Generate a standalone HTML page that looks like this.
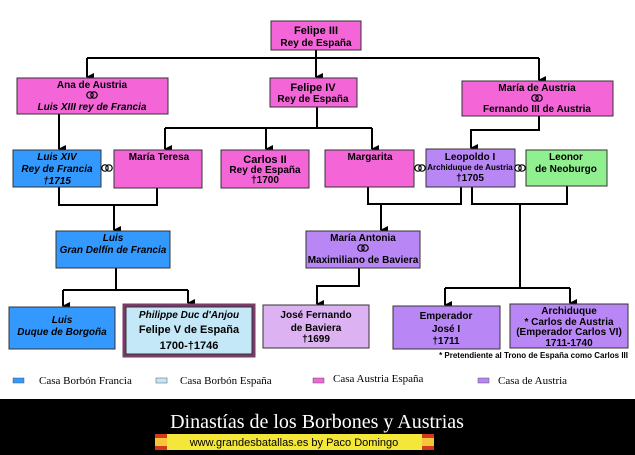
<!DOCTYPE html>
<html><head><meta charset="utf-8"><style>
body{margin:0;width:635px;height:455px;background:#fff;overflow:hidden}
svg{display:block}
text{font-family:"Liberation Sans",Arial,sans-serif;font-weight:bold;fill:#000}
.s{font-size:10px}
.xs{font-size:8px}
</style></head><body>
<svg width="635" height="455" viewBox="0 0 635 455">
<defs><marker id="a" markerWidth="8" markerHeight="8" refX="4" refY="7" orient="auto" markerUnits="userSpaceOnUse"><path d="M0,0 L8,0 L4,8z" fill="#000"/></marker>
<g id="r"><circle cx="-2" cy="0" r="3.2" fill="none" stroke="#000" stroke-width="1.2"/><circle cx="2" cy="0" r="3.2" fill="none" stroke="#000" stroke-width="1.2"/></g></defs>
<g fill="none" stroke="#000" stroke-width="2">
<path d="M316,50 V77" marker-end="url(#a)"/>
<path d="M87,58 H539" /><path d="M87,58 V77" marker-end="url(#a)"/><path d="M539,58 V80" marker-end="url(#a)"/>
<path d="M59,114 V149" marker-end="url(#a)"/>
<path d="M317,107 V128"/><path d="M165,128 H372"/><path d="M165,128 V149" marker-end="url(#a)"/><path d="M266,128 V149" marker-end="url(#a)"/><path d="M372,128 V149" marker-end="url(#a)"/>
<path d="M539,116 V130 H471 V148" marker-end="url(#a)"/>
<path d="M59,187 V205 H157 V188"/><path d="M114,205 V230" marker-end="url(#a)"/>
<path d="M368,187 V204 H461 V187"/><path d="M381,204 V230" marker-end="url(#a)"/>
<path d="M472,187 V204 H567 V186"/><path d="M520,204 V288"/><path d="M445,288 H570"/><path d="M445,288 V305" marker-end="url(#a)"/><path d="M570,288 V303" marker-end="url(#a)"/>
<path d="M116,268 V290"/><path d="M63,290 H188"/><path d="M63,290 V306" marker-end="url(#a)"/><path d="M188,290 V303" marker-end="url(#a)"/>
<path d="M359,268 V286 H317 V304" marker-end="url(#a)"/>
</g>
<g stroke="#333" stroke-width="1">
<rect x="271" y="21" width="90" height="29" fill="#f466d8"/>
<rect x="17" y="78" width="151" height="36" fill="#f466d8"/>
<rect x="270" y="78" width="87" height="29" fill="#f466d8"/>
<rect x="462" y="81" width="151" height="35" fill="#f466d8"/>
<rect x="13" y="150" width="88" height="37" fill="#3399ff"/>
<rect x="114" y="150" width="88" height="38" fill="#f466d8"/>
<rect x="221" y="150" width="88" height="38" fill="#f466d8"/>
<rect x="325" y="150" width="89" height="37" fill="#f466d8"/>
<rect x="426" y="149" width="89" height="38" fill="#b987f5"/>
<rect x="526" y="150" width="81" height="36" fill="#90f090"/>
<rect x="56" y="231" width="114" height="37" fill="#3399ff"/>
<rect x="306" y="231" width="114" height="37" fill="#b987f5"/>
<rect x="9" y="307" width="106" height="42" fill="#3399ff"/>
<rect x="123" y="304" width="132" height="53" fill="#7a3a6a" stroke="#7a3a6a"/>
<rect x="126" y="307" width="126" height="47" fill="#c4e8f8"/>
<rect x="263" y="305" width="106" height="43" fill="#dcb2f2"/>
<rect x="393" y="306" width="107" height="43" fill="#b987f5"/>
<rect x="510" y="304" width="118" height="44" fill="#b987f5"/>
</g>
<use href="#r" x="92" y="95"/><use href="#r" x="537" y="98"/><use href="#r" x="363" y="248"/>
<use href="#r" x="107" y="168"/><use href="#r" x="420" y="168"/><use href="#r" x="520" y="168"/>
<g text-anchor="middle">
<text x="316" y="34" font-size="11">Felipe III</text><text x="316" y="46" class="s">Rey de España</text>
<text x="92" y="88" class="s">Ana de Austria</text><text x="92" y="110" class="s" font-style="italic">Luis XIII rey de Francia</text>
<text x="313" y="91" font-size="11">Felipe IV</text><text x="313" y="102" class="s">Rey de España</text>
<text x="537" y="91" class="s">María de Austria</text><text x="537" y="112" class="s">Fernando III de Austria</text>
<g font-style="italic"><text x="57" y="160" class="s">Luis XIV</text><text x="57" y="172" class="s">Rey de Francia</text><text x="57" y="184" class="s">†1715</text></g>
<text x="159" y="160" class="s">María Teresa</text>
<text x="265" y="163" font-size="11">Carlos II</text><text x="265" y="173" class="s">Rey de España</text><text x="265" y="183" class="s">†1700</text>
<text x="370" y="160" class="s">Margarita</text>
<text x="470" y="160" class="s">Leopoldo I</text><text x="470" y="170" class="xs">Archiduque de Austria</text><text x="470" y="181" class="s">†1705</text>
<text x="566" y="160" class="s">Leonor</text><text x="566" y="172" class="s">de Neoburgo</text>
<g font-style="italic"><text x="113" y="241" class="s">Luis</text><text x="113" y="253" class="s">Gran Delfín de Francia</text></g>
<text x="363" y="241" class="s">María Antonia</text><text x="363" y="263" class="s">Maximiliano de Baviera</text>
<g font-style="italic"><text x="62" y="323" class="s">Luis</text><text x="62" y="335" class="s">Duque de Borgoña</text></g>
<text x="189" y="318" class="s" font-style="italic">Philippe Duc d'Anjou</text><text x="189" y="333" font-size="11">Felipe V de España</text><text x="189" y="349" font-size="11">1700-†1746</text>
<text x="316" y="318" class="s">José Fernando</text><text x="316" y="331" class="s">de Baviera</text><text x="316" y="342" class="s">†1699</text>
<text x="446" y="319" class="s">Emperador</text><text x="446" y="332" class="s">José I</text><text x="446" y="344" class="s">†1711</text>
<text x="569" y="314" class="s">Archiduque</text><text x="569" y="325" class="s">* Carlos de Austria</text><text x="569" y="335" class="s">(Emperador Carlos VI)</text><text x="569" y="346" class="s">1711-1740</text>
</g>
<text x="628" y="358" class="xs" text-anchor="end">* Pretendiente al Trono de España como Carlos III</text>
<g stroke="#555" stroke-width="0.5">
<rect x="13" y="378" width="11" height="5" fill="#3399ff"/>
<rect x="156" y="378" width="11" height="5" fill="#c4e8f8"/>
<rect x="313" y="378" width="11" height="5" fill="#f466d8"/>
<rect x="478" y="378" width="11" height="5" fill="#b987f5"/>
</g>
<g font-size="11">
<text x="39" y="384" style="font-family:'Liberation Serif',serif;font-weight:normal">Casa Borbón Francia</text>
<text x="180" y="384" style="font-family:'Liberation Serif',serif;font-weight:normal">Casa Borbón España</text>
<text x="333" y="382" style="font-family:'Liberation Serif',serif;font-weight:normal">Casa Austria España</text>
<text x="498" y="384" style="font-family:'Liberation Serif',serif;font-weight:normal">Casa de Austria</text>
</g>
<rect x="0" y="399" width="635" height="56" fill="#000"/>
<text x="317" y="428" text-anchor="middle" font-size="20" style="font-family:'Liberation Serif',serif;font-weight:normal;fill:#fff">Dinastías de los Borbones y Austrias</text>
<rect x="155" y="434" width="279" height="16" fill="#f5e63a"/>
<rect x="155" y="434" width="12" height="16" fill="#d23a1a"/><rect x="422" y="434" width="12" height="16" fill="#d23a1a"/>
<rect x="155" y="438" width="12" height="8" fill="#f5c53a"/><rect x="422" y="438" width="12" height="8" fill="#f5c53a"/>
<text x="294" y="446" text-anchor="middle" font-size="11" style="font-weight:normal">www.grandesbatallas.es   by Paco Domingo</text>
</svg>
</body></html>
